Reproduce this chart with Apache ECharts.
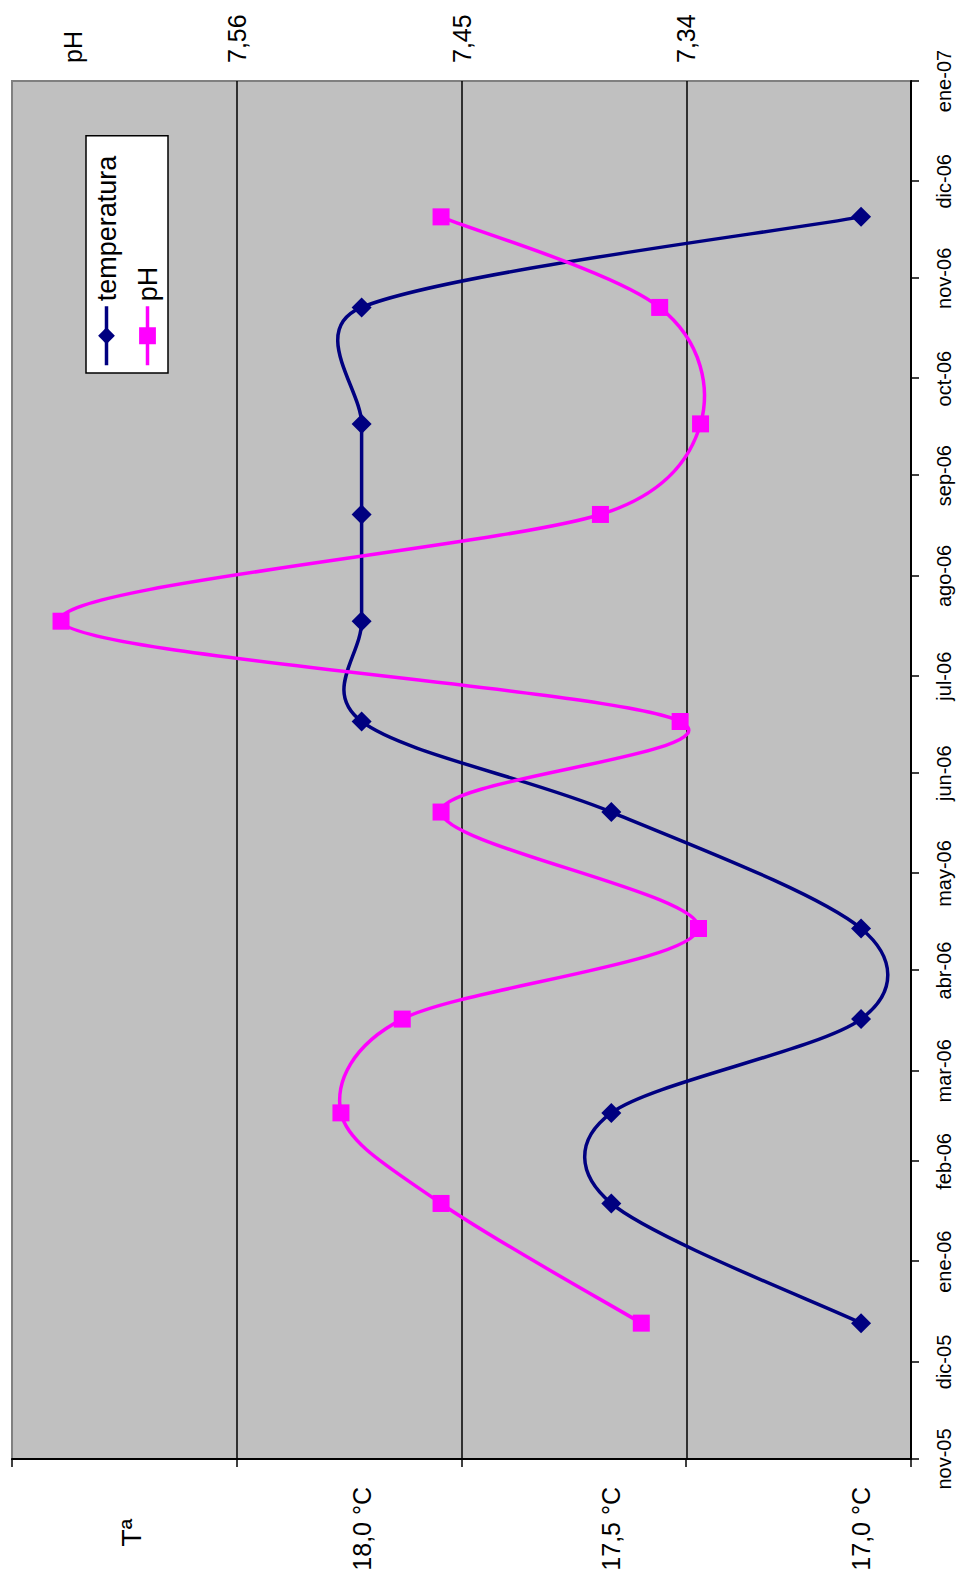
<!DOCTYPE html>
<html>
<head>
<meta charset="utf-8">
<script src="https://cdn.jsdelivr.net/npm/echarts@6/dist/echarts.min.js"></script>
<style>
  html, body { margin: 0; padding: 0; width: 962px; height: 1580px; overflow: hidden; background: #ffffff; }
  /* the chart is laid out landscape and turned a quarter turn counter-clockwise */
  #chart { position: absolute; left: 0; top: 0; width: 1580px; height: 962px;
           transform-origin: 0 0; transform: translateY(1580px) rotate(-90deg); }
</style>
</head>
<body>
<div id="chart"></div>
<script>
// sampling dates
const fechas = ['2005-12-13', '2006-01-19', '2006-02-16', '2006-03-17', '2006-04-14', '2006-05-20',
                '2006-06-17', '2006-07-18', '2006-08-20', '2006-09-17', '2006-10-23', '2006-11-20'];
// water temperature (°C)
const temperatura = [17.0, 17.5, 17.5, 17.0, 17.0, 17.5, 18.0, 18.0, 18.0, 18.0, 18.0, 17.0];
// pH
const ph = [7.362, 7.460, 7.509, 7.479, 7.334, 7.460, 7.343, 7.646, 7.382, 7.333, 7.353, 7.460];

const meses = ['ene', 'feb', 'mar', 'abr', 'may', 'jun', 'jul', 'ago', 'sep', 'oct', 'nov', 'dic'];
const ticksTemp = [16.9, 17.35, 17.8, 18.25, 18.7];
const etiquetasTemp = [17.0, 17.5, 18.0];
const posTituloTemp = 18.46;
const lineasPH = [7.34, 7.45, 7.56];
const posTituloPH = 7.64;

function aTiempo(s) {
  const p = s.split('-').map(Number);
  return new Date(p[0], p[1] - 1, p[2]).getTime();
}
const tiempos = fechas.map(aTiempo);
const inicio = new Date(2005, 10, 1).getTime();
const fin = new Date(2007, 0, 1).getTime();

const COLOR_T = '#000080';
const COLOR_PH = '#FF00FF';
const GROSOR = 3.5;

// Spreadsheet-style smoothed curve: each segment is a cubic Bézier whose control
// points follow the neighbouring points (1/6 of the chord), capped at half the segment.
function curvaSuavizada(valores, color) {
  return function (params, api) {
    const i = params.dataIndex;
    const n = valores.length;
    if (i >= n - 1) return null;
    const P = (k) => api.coord([tiempos[k], valores[k]]);
    const p1 = P(i), p2 = P(i + 1);
    const p0 = i > 0 ? P(i - 1) : p1;
    const p3 = i + 2 < n ? P(i + 2) : p2;
    const dist = (a, b) => Math.hypot(b[0] - a[0], b[1] - a[1]);
    const d12 = dist(p1, p2);
    const d02 = dist(p0, p2);
    const d13 = dist(p1, p3);
    let f1 = 1 / 6, f2 = 1 / 6;
    if (d02 * f1 > d12 / 2) f1 = (d12 / 2) / d02;
    if (d13 * f2 > d12 / 2) f2 = (d12 / 2) / d13;
    return {
      type: 'bezierCurve',
      shape: {
        x1: p1[0], y1: p1[1], x2: p2[0], y2: p2[1],
        cpx1: p1[0] + f1 * (p2[0] - p0[0]), cpy1: p1[1] + f1 * (p2[1] - p0[1]),
        cpx2: p2[0] - f2 * (p3[0] - p1[0]), cpy2: p2[1] - f2 * (p3[1] - p1[1])
      },
      style: { stroke: color, lineWidth: GROSOR, fill: null, lineCap: 'round' },
      silent: true
    };
  };
}

const chart = echarts.init(document.getElementById('chart'), null, { renderer: 'svg' });

const fuente = '"Liberation Sans", Arial, sans-serif';

chart.setOption({
  animation: false,
  backgroundColor: '#ffffff',
  textStyle: { fontFamily: fuente, color: '#000000' },
  grid: {
    left: 121, right: 81, top: 12, bottom: 51,
    show: true, backgroundColor: '#C0C0C0', borderColor: '#808080', borderWidth: 2
  },
  legend: {
    orient: 'vertical',
    left: 1207, top: 86,
    backgroundColor: '#ffffff', borderColor: '#000000', borderWidth: 1.5,
    padding: [7, 20, 7, 6],
    itemWidth: 59, itemHeight: 21, itemGap: 14,
    lineStyle: { opacity: 1, width: GROSOR },
    textStyle: { fontFamily: fuente, fontSize: 27, color: '#000000' },
    data: ['temperatura', 'pH']
  },
  xAxis: {
    type: 'time',
    min: inicio, max: fin,
    splitNumber: 14,
    axisLine: { lineStyle: { color: '#000000', width: 2 } },
    axisTick: { show: true, length: 8, lineStyle: { color: '#000000', width: 1.5 } },
    splitLine: { show: false },
    axisLabel: {
      fontFamily: fuente, fontSize: 20, color: '#000000', margin: 23,
      hideOverlap: false, showMinLabel: true, showMaxLabel: true,
      formatter: function (v) {
        const d = new Date(v);
        return meses[d.getMonth()] + '-' + String(d.getFullYear()).slice(2);
      }
    }
  },
  yAxis: [
    {
      type: 'value', position: 'left',
      min: 16.9, max: 18.7,
      axisLine: { show: true, lineStyle: { color: '#000000', width: 2 } },
      axisTick: { show: true, length: 8, customValues: ticksTemp, lineStyle: { color: '#000000', width: 1.5 } },
      splitLine: { show: false },
      axisLabel: {
        fontFamily: fuente, fontSize: 25, color: '#000000', margin: 28,
        customValues: etiquetasTemp.concat([posTituloTemp]),
        formatter: function (v) {
          if (Math.abs(v - posTituloTemp) < 1e-6) return '{t|Tª}';
          return v.toFixed(1).replace('.', ',') + ' °C';
        },
        rich: {
          t: { fontFamily: fuente, fontSize: 28, color: '#000000', padding: [0, 32, 0, 0] }
        }
      }
    },
    {
      type: 'value', position: 'right',
      min: 7.23, max: 7.67,
      axisLine: { show: false },
      axisTick: { show: false, customValues: lineasPH },
      splitLine: { show: true, lineStyle: { color: '#000000', width: 1.5 } },
      axisLabel: {
        fontFamily: fuente, fontSize: 25, color: '#000000', margin: 18,
        customValues: lineasPH.concat([posTituloPH]),
        formatter: function (v) {
          if (Math.abs(v - posTituloPH) < 1e-6) return 'pH';
          return v.toFixed(2).replace('.', ',');
        }
      }
    }
  ],
  series: [
    {
      type: 'custom', yAxisIndex: 0, z: 2,
      data: tiempos.map((t, i) => [t, temperatura[i]]),
      encode: { x: 0, y: 1 },
      renderItem: curvaSuavizada(temperatura, COLOR_T)
    },
    {
      name: 'temperatura', type: 'line', yAxisIndex: 0, z: 3,
      data: tiempos.map((t, i) => [t, temperatura[i]]),
      symbol: 'diamond', symbolSize: 20,
      itemStyle: { color: COLOR_T },
      lineStyle: { color: COLOR_T, width: GROSOR, opacity: 0 }
    },
    {
      type: 'custom', yAxisIndex: 1, z: 2,
      data: tiempos.map((t, i) => [t, ph[i]]),
      encode: { x: 0, y: 1 },
      renderItem: curvaSuavizada(ph, COLOR_PH)
    },
    {
      name: 'pH', type: 'line', yAxisIndex: 1, z: 3,
      data: tiempos.map((t, i) => [t, ph[i]]),
      symbol: 'rect', symbolSize: 17,
      itemStyle: { color: COLOR_PH },
      lineStyle: { color: COLOR_PH, width: GROSOR, opacity: 0 }
    }
  ]
});
</script>
</body>
</html>
